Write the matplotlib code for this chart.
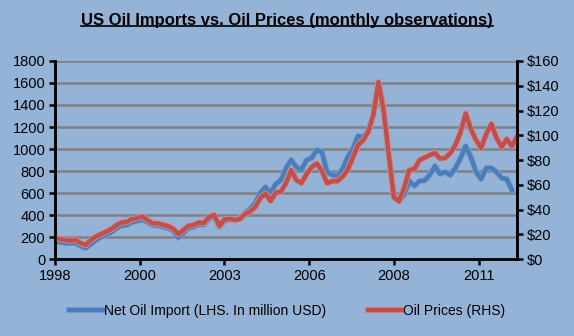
import numpy as np
import matplotlib
matplotlib.use("Agg")
import matplotlib.pyplot as plt
import matplotlib.patheffects as pe
from matplotlib.lines import Line2D

plt.rcParams['font.family'] = ['Liberation Sans', 'DejaVu Sans']

# month index from Jan 1998, one reading every two months
months = np.arange(0, 182, 2)

# net oil import, million USD (left axis)
imports = [155, 155, 145, 145, 145, 118, 100, 136, 173, 200,
           223, 245, 282, 305, 309, 336, 345, 359, 336, 309,
           305, 295, 282, 259, 195, 236, 282, 291, 314, 314,
           364, 386, 291, 345, 359, 355, 364, 418, 455, 509,
           600, 655, 600, 682, 718, 827, 900, 836, 809, 900,
           918, 991, 973, 791, 764, 755, 818, 927, 1000, 1118,
           1109, 1164, 1309, 1609, 1354, 955, 573, 527, 582, 709,
           664, 709, 714, 764, 845, 773, 791, 764, 827, 918,
           1027, 927, 791, 727, 827, 827, 791, 736, 727, 627,
           np.nan]

# oil price, USD per barrel (right axis)
prices = [17.0, 16.2, 15.4, 14.9, 15.4, 12.9, 11.3, 15.4, 18.2, 20.2,
          22.2, 24.2, 27.5, 29.5, 29.9, 32.3, 32.9, 34.3, 31.5, 28.8,
          28.8, 27.7, 26.7, 24.6, 20.2, 23.4, 26.7, 27.5, 29.5, 29.1,
          33.9, 35.6, 26.7, 31.9, 32.5, 31.5, 32.3, 36.4, 38.4, 42.0,
          49.3, 52.9, 46.9, 53.7, 54.5, 61.4, 71.9, 63.8, 61.4, 68.7,
          74.3, 77.2, 71.1, 61.4, 63.0, 63.0, 66.5, 71.9, 81.6, 92.1,
          95.7, 102.6, 116.4, 143.0, 120.4, 84.8, 50.0, 46.5, 57.4, 71.9,
          72.7, 80.0, 82.0, 84.0, 85.6, 81.2, 81.6, 85.6, 92.1, 102.6,
          117.6, 105.0, 96.2, 89.7, 101.0, 109.1, 97.8, 90.5, 97.0, 91.3,
          99.0]

tick_months = [0, 33, 66, 99, 132, 165]
tick_labels = ['1998', '2000', '2003', '2006', '2008', '2011']

bg = '#95B3D7'
fig = plt.figure(figsize=(5.74, 3.36), dpi=100, facecolor=bg)
ax = fig.add_axes([0.0958, 0.229, 0.805, 0.5895])
ax.set_facecolor(bg)
ax2 = ax.twinx()

ax.plot(months, imports, color='#4A7EBB', lw=3.2, solid_joinstyle='round',
        path_effects=[pe.Stroke(linewidth=4.4, foreground='#7DA3D2'), pe.Normal()],
        label='Net Oil Import (LHS. In million USD)')
ax2.plot(months, prices, color='#C0504D', lw=3.2, solid_joinstyle='round',
         path_effects=[pe.Stroke(linewidth=4.4, foreground='#D98C8A'), pe.Normal()],
         label='Oil Prices (RHS)')

ax.set_xlim(0, 180)
ax.set_ylim(0, 1800)
ax.set_yticks(range(0, 1801, 200))
ax2.set_ylim(0, 160)
ax2.set_yticks(range(0, 161, 20))
ax2.set_yticklabels(['$%d' % v for v in range(0, 161, 20)])
ax.set_xticks(tick_months)
ax.set_xticklabels(tick_labels)

ax.grid(axis='y', color='#808080', lw=1.8)
ax.set_axisbelow(True)
for a in (ax, ax2):
    a.spines['top'].set_visible(False)
    for s in ('left', 'right', 'bottom'):
        a.spines[s].set_linewidth(1.8)
        a.spines[s].set_color('black')
    a.tick_params(direction='out', length=4, width=1.8, labelsize=10.5, pad=3)
ax.tick_params(axis='x', pad=3)

t = fig.text(0.5, 0.94, 'US Oil Imports vs. Oil Prices (monthly observations)',
             ha='center', va='center', fontsize=12, fontweight='bold')
fig.canvas.draw()
bb = t.get_window_extent().transformed(fig.transFigure.inverted())
fig.add_artist(Line2D([bb.x0, bb.x1], [bb.y0 + 0.004, bb.y0 + 0.004],
                      color='black', lw=1.2, transform=fig.transFigure))

h1, l1 = ax.get_legend_handles_labels()
h2, l2 = ax2.get_legend_handles_labels()
fig.legend(h1 + h2, l1 + l2, loc='center', bbox_to_anchor=(0.5, 0.074), ncol=2,
           frameon=False, fontsize=10, handlelength=2.4, handletextpad=0.1,
           columnspacing=3.0)

fig.savefig('out.png', dpi=100, facecolor=bg)
